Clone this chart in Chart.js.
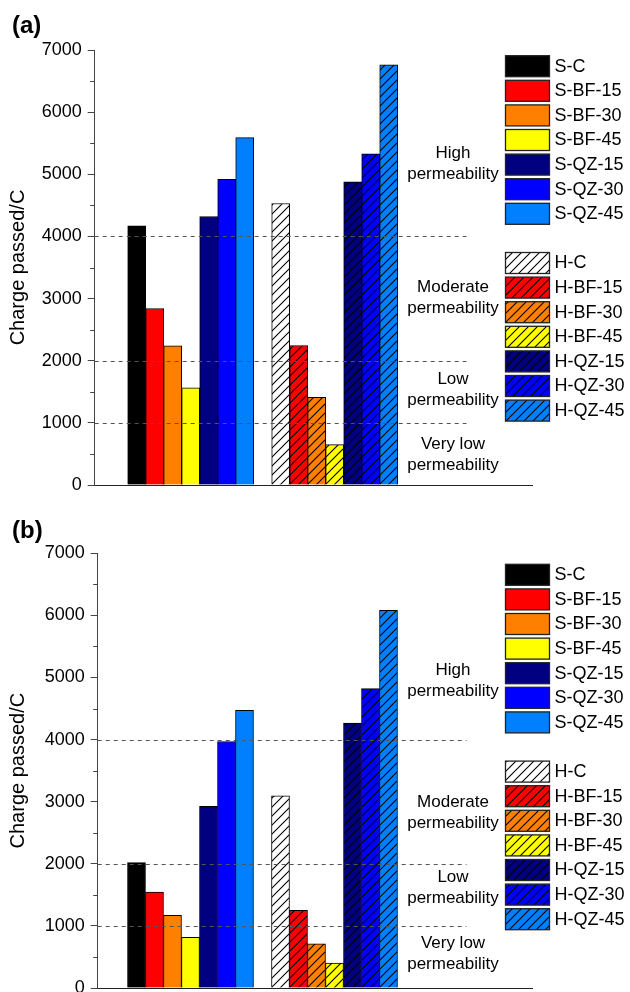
<!DOCTYPE html>
<html>
<head>
<meta charset="utf-8">
<title>Charge passed</title>
<script src="https://cdn.jsdelivr.net/npm/chart.js@4.4.1/dist/chart.umd.min.js"></script>
<style>
  html, body { margin: 0; padding: 0; background: #fff; overflow: hidden; }
  .panel { position: relative; width: 630px; height: 503px; }
</style>
</head>
<body>
<div class="panel"><canvas id="chartA"></canvas></div>
<div class="panel"><canvas id="chartB"></canvas></div>
<script>
// mix names, standard (S) and hatched (H) series
const sLabels = ['S-C', 'S-BF-15', 'S-BF-30', 'S-BF-45', 'S-QZ-15', 'S-QZ-30', 'S-QZ-45'];
const hLabels = ['H-C', 'H-BF-15', 'H-BF-30', 'H-BF-45', 'H-QZ-15', 'H-QZ-30', 'H-QZ-45'];

// charge passed (C), panel (a)
const sChargeA = [4170, 2840, 2240, 1565, 4320, 4920, 5590];
const hChargeA = [4530, 2245, 1410, 650, 4880, 5330, 6760];

// charge passed (C), panel (b)
const sChargeB = [2020, 1545, 1170, 815, 2925, 3970, 4470];
const hChargeB = [3095, 1250, 710, 400, 4265, 4820, 6080];

// permeability class limits and their names
const classLimits = [1000, 2000, 4000];
const classNames = [
  ['Very low', 'permeability'],
  ['Low', 'permeability'],
  ['Moderate', 'permeability'],
  ['High', 'permeability']
];

const yTickValues = [0, 1000, 2000, 3000, 4000, 5000, 6000, 7000];

const sColors = ['#000000', '#ff0000', '#ff8000', '#ffff00', '#000080', '#0000ff', '#0080ff'];
const hColors = ['#ffffff', '#ff0000', '#ff8000', '#ffff00', '#000080', '#0000ff', '#0080ff'];

const FONT = '"Liberation Sans", Arial, Helvetica, sans-serif';

// diagonal "/" hatching on top of a fill colour
function hatch(color) {
  const s = 9;
  const c = document.createElement('canvas');
  c.width = s; c.height = s;
  const g = c.getContext('2d');
  g.fillStyle = color;
  g.fillRect(0, 0, s, s);
  g.strokeStyle = '#000';
  g.lineWidth = 1.1;
  g.beginPath();
  g.moveTo(0, s); g.lineTo(s, 0);
  g.moveTo(-1, 1); g.lineTo(1, -1);
  g.moveTo(s - 1, s + 1); g.lineTo(s + 1, s - 1);
  g.stroke();
  return g.createPattern(c, 'repeat');
}
const hFills = hColors.map(hatch);

// extra drawing: class limit lines, minor ticks, class names, legend, panel letter
const decorPlugin = {
  id: 'decor',
  afterDatasetsDraw(chart, args, opts) {
    const { ctx, chartArea } = chart;
    const y = chart.scales.y;
    ctx.save();
    ctx.strokeStyle = '#555';
    ctx.lineWidth = 1;
    ctx.setLineDash([4, 4]);
    classLimits.forEach(v => {
      const py = Math.round(y.getPixelForValue(v)) + 0.5;
      ctx.beginPath();
      ctx.moveTo(chartArea.left, py);
      ctx.lineTo(opts.limitEnd, py);
      ctx.stroke();
    });
    ctx.restore();
  },
  afterDraw(chart, args, opts) {
    const { ctx, chartArea } = chart;
    const y = chart.scales.y;
    ctx.save();

    // minor ticks between the labelled ones
    ctx.strokeStyle = '#444';
    ctx.lineWidth = 1;
    for (let v = 500; v < 7000; v += 1000) {
      const py = Math.round(y.getPixelForValue(v)) + 0.5;
      ctx.beginPath();
      ctx.moveTo(chartArea.left - 4.5, py);
      ctx.lineTo(chartArea.left, py);
      ctx.stroke();
    }

    // permeability class names
    ctx.fillStyle = '#000';
    ctx.font = '17px ' + FONT;
    ctx.textAlign = 'center';
    ctx.textBaseline = 'middle';
    classNames.forEach((lines, i) => {
      const cy = y.getPixelForValue(opts.classAt[i]);
      ctx.fillText(lines[0], opts.classX, cy - 10.5);
      ctx.fillText(lines[1], opts.classX, cy + 10.5);
    });

    // legend: standard mixes, one empty row, hatched mixes
    const rows = [];
    sLabels.forEach((t, i) => rows.push({ text: t, fill: sColors[i] }));
    rows.push(null);
    hLabels.forEach((t, i) => rows.push({ text: t, fill: hFills[i] }));
    ctx.font = '18px ' + FONT;
    ctx.textAlign = 'left';
    rows.forEach((r, i) => {
      if (!r) return;
      const top = opts.legendTop + i * 24.6;
      ctx.fillStyle = r.fill;
      ctx.fillRect(opts.legendX, top, 44, 21);
      ctx.strokeStyle = '#222';
      ctx.lineWidth = 1.3;
      ctx.strokeRect(opts.legendX, top, 44, 21);
      ctx.fillStyle = '#000';
      ctx.fillText(r.text, opts.legendX + 49, top + 11);
    });

    // panel letter
    ctx.font = 'bold 24px ' + FONT;
    ctx.textBaseline = 'alphabetic';
    ctx.fillText(opts.letter, 12, opts.letterBase);
    ctx.restore();
  }
};

function makeChart(canvasId, sCharge, hCharge, panel) {
  const slot = 18;
  const xMin = -(panel.firstCenter - panel.axisLeft) / slot;
  const xMax = xMin + (panel.axisRight - panel.axisLeft) / slot;

  return new Chart(document.getElementById(canvasId), {
    type: 'bar',
    data: {
      datasets: [
        {
          label: 'S',
          data: sCharge.map((v, i) => ({ x: i, y: v })),
          backgroundColor: sColors
        },
        {
          label: 'H',
          data: hCharge.map((v, i) => ({ x: i + sCharge.length + 1, y: v })),
          backgroundColor: hFills
        }
      ]
    },
    options: {
      responsive: true,
      maintainAspectRatio: false,
      animation: false,
      events: [],
      layout: {
        padding: { top: panel.top, bottom: 18, left: 0, right: 630 - panel.axisRight }
      },
      datasets: {
        bar: {
          grouped: false,
          categoryPercentage: 1,
          barPercentage: 1,
          borderColor: '#000',
          borderWidth: 1
        }
      },
      scales: {
        x: {
          type: 'linear',
          min: xMin,
          max: xMax,
          offset: false,
          ticks: { display: false },
          grid: { display: false, offset: false },
          border: { display: true, color: '#222', width: 1 },
          afterFit(scale) { scale.height = 0; }
        },
        y: {
          min: 0,
          max: 7000,
          afterBuildTicks(scale) { scale.ticks = yTickValues.map(v => ({ value: v })); },
          ticks: {
            color: '#000',
            padding: 6,
            font: { family: FONT, size: 18 },
            callback: v => String(v)
          },
          grid: {
            drawOnChartArea: false,
            drawTicks: true,
            tickLength: 7,
            tickColor: '#444'
          },
          border: { display: true, color: '#444', width: 1 },
          title: {
            display: true,
            text: 'Charge passed/C',
            color: '#000',
            font: { family: FONT, size: 20 },
            padding: { top: 6, bottom: 0 }
          },
          afterFit(scale) { scale.width = panel.axisLeft; }
        }
      },
      plugins: {
        legend: { display: false },
        tooltip: { enabled: false },
        decor: {
          letter: panel.letter,
          letterBase: panel.letterBase,
          limitEnd: 466.5,
          classX: 453,
          classAt: panel.classAt,
          legendX: 505.5,
          legendTop: panel.legendTop
        }
      }
    },
    plugins: [decorPlugin]
  });
}

makeChart('chartA', sChargeA, hChargeA, {
  letter: '(a)', letterBase: 32.5, top: 50,
  axisLeft: 94.7, axisRight: 532.7, firstCenter: 136.7,
  classAt: [483, 1530, 3009, 5166], legendTop: 55.7
});

makeChart('chartB', sChargeB, hChargeB, {
  letter: '(b)', letterBase: 34.5, top: 50.3,
  axisLeft: 97.7, axisRight: 532.7, firstCenter: 136.5,
  classAt: [544, 1615, 2824, 4945], legendTop: 61.3
});
</script>
</body>
</html>
